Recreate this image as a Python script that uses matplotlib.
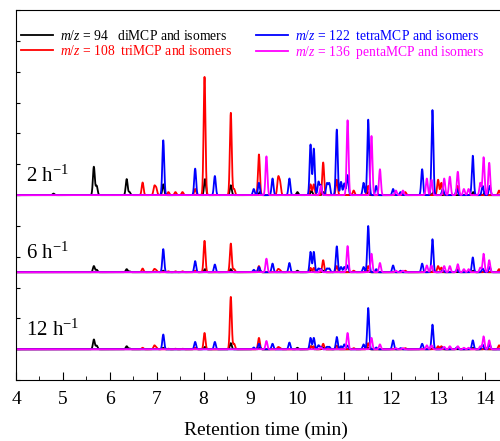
import numpy as np
import matplotlib
matplotlib.use("Agg")
import matplotlib.pyplot as plt
from matplotlib.ticker import MultipleLocator

plt.rcParams['font.family'] = ['Liberation Serif', 'DejaVu Serif']
plt.rcParams['mathtext.fontset'] = 'custom'
plt.rcParams['mathtext.rm'] = 'Liberation Serif'
plt.rcParams['mathtext.it'] = 'Liberation Serif:italic'

# peak tables: retention times (min) and peak heights per space velocity
black_rt = [4.80, 5.66, 5.72, 6.36, 6.42, 7.14, 8.03, 8.58, 9.20, 10.00, 10.30, 10.55, 11.50, 12.90, 13.75, 14.00]
black_2h = [0.05, 0.92, 0.30, 0.52, 0.10, 0.35, 0.52, 0.32, 0.10, 0.10, 0.15, 0.10, 0.10, 0.10, 0.10, 0.10]
black_6h = [0.00, 0.20, 0.08, 0.10, 0.03, 0.05, 0.10, 0.10, 0.05, 0.05, 0.08, 0.05, 0.05, 0.05, 0.05, 0.05]
black_12h = [0.00, 0.32, 0.12, 0.10, 0.03, 0.05, 0.08, 0.20, 0.06, 0.05, 0.10, 0.06, 0.06, 0.05, 0.05, 0.05]

red_rt = [6.70, 6.95, 6.99, 7.25, 7.40, 7.55, 7.82, 8.02, 8.58, 8.65, 9.18, 9.59, 9.63, 10.28, 10.35, 10.55, 10.84, 11.20, 11.51, 12.30, 13.00, 13.07, 13.42, 14.30]
red_2h = [0.41, 0.28, 0.22, 0.10, 0.10, 0.10, 0.20, 3.84, 2.67, 0.20, 1.32, 0.55, 0.40, 0.35, 0.35, 1.06, 0.50, 0.15, 0.30, 0.10, 0.50, 0.40, 0.30, 0.15]
red_6h = [0.12, 0.10, 0.06, 0.03, 0.03, 0.03, 0.05, 1.02, 0.93, 0.10, 0.20, 0.10, 0.06, 0.14, 0.14, 0.39, 0.20, 0.05, 0.20, 0.05, 0.20, 0.15, 0.10, 0.10]
red_12h = [0.05, 0.12, 0.06, 0.02, 0.02, 0.02, 0.05, 0.53, 1.70, 0.18, 0.37, 0.07, 0.04, 0.10, 0.10, 0.18, 0.12, 0.04, 0.20, 0.04, 0.10, 0.10, 0.06, 0.13]

blue_rt = [7.14, 7.82, 8.24, 9.07, 9.18, 9.47, 9.83, 10.28, 10.35, 10.45, 10.50, 10.63, 10.68, 10.84, 10.93, 11.00, 11.07, 11.41, 11.51, 11.68, 12.04, 12.20, 12.66, 12.88, 13.10, 13.40, 13.74, 13.95, 14.10]
blue_2h = [1.78, 0.86, 0.62, 0.20, 0.40, 0.54, 0.54, 1.64, 1.51, 0.43, 0.30, 0.38, 0.38, 2.13, 0.43, 0.38, 0.65, 0.40, 2.45, 0.30, 0.20, 0.10, 0.84, 2.76, 0.20, 0.20, 1.28, 0.30, 0.30]
blue_6h = [0.75, 0.36, 0.25, 0.08, 0.17, 0.28, 0.30, 0.66, 0.66, 0.12, 0.10, 0.12, 0.12, 0.84, 0.17, 0.17, 0.22, 0.17, 1.50, 0.10, 0.22, 0.05, 0.28, 1.07, 0.08, 0.08, 0.48, 0.12, 0.17]
blue_12h = [0.48, 0.24, 0.24, 0.06, 0.18, 0.18, 0.22, 0.37, 0.37, 0.13, 0.08, 0.08, 0.08, 0.40, 0.10, 0.16, 0.12, 0.16, 1.34, 0.06, 0.29, 0.04, 0.18, 0.80, 0.06, 0.06, 0.29, 0.15, 0.15]

magenta_rt = [9.34, 10.50, 11.07, 11.58, 11.76, 12.10, 12.25, 12.76, 12.86, 13.13, 13.25, 13.42, 13.55, 13.65, 13.90, 13.97, 14.09]
magenta_2h = [1.26, 0.30, 2.43, 1.92, 0.84, 0.15, 0.15, 0.54, 0.50, 0.54, 0.60, 0.76, 0.20, 0.20, 0.40, 1.23, 1.05]
magenta_6h = [0.44, 0.08, 0.85, 0.60, 0.30, 0.05, 0.05, 0.22, 0.22, 0.20, 0.20, 0.26, 0.10, 0.10, 0.15, 0.60, 0.39]
magenta_12h = [0.27, 0.06, 0.53, 0.37, 0.16, 0.04, 0.04, 0.13, 0.13, 0.08, 0.10, 0.10, 0.05, 0.05, 0.10, 0.42, 0.29]

panel_labels = ['2 h$^{-1}$', '6 h$^{-1}$', '12 h$^{-1}$']
panel_offsets = [6.0, 3.5, 1.0]

series_labels = ['$m/z$ = 94   diMCP and isomers',
                 '$m/z$ = 108  triMCP and isomers',
                 '$m/z$ = 122  tetraMCP and isomers',
                 '$m/z$ = 136  pentaMCP and isomers']
series_colors = ['black', 'red', 'blue', 'magenta']
series_rt = [black_rt, red_rt, blue_rt, magenta_rt]
series_heights = [[black_2h, black_6h, black_12h],
                  [red_2h, red_6h, red_12h],
                  [blue_2h, blue_6h, blue_12h],
                  [magenta_2h, magenta_6h, magenta_12h]]

t = np.linspace(4.0, 14.6, 4000)
sigma = 0.02


def trace(rt, heights):
    y = np.zeros_like(t)
    for r, h in zip(rt, heights):
        y += h * np.exp(-0.5 * ((t - r) / sigma) ** 2)
    return y


fig = plt.figure(figsize=(5.0, 4.41), dpi=100)
ax = fig.add_axes([0.032, 0.138, 1.0, 0.839])

for k in range(4):
    for p in range(3):
        y = trace(series_rt[k], series_heights[k][p]) + panel_offsets[p]
        ax.plot(t, y, color=series_colors[k], lw=1.3,
                label=series_labels[k] if p == 0 else None)

for p in range(3):
    ax.text(4.21, panel_offsets[p] + 0.43, panel_labels[p], fontsize=15,
            va='baseline', ha='left')

ax.set_xlim(4.0, 4.0 + 500 / 46.9)
ax.set_ylim(0, 12)
ax.xaxis.set_major_locator(MultipleLocator(1))
ax.xaxis.set_minor_locator(MultipleLocator(0.5))
ax.yaxis.set_major_locator(MultipleLocator(1))
ax.tick_params(axis='x', which='major', direction='in', length=6, labelsize=14, pad=8)
ax.tick_params(axis='x', which='minor', direction='in', length=3)
ax.tick_params(axis='y', which='major', direction='in', length=3, labelleft=False)
ax.spines['right'].set_visible(False)
ax.set_xlabel('Retention time (min)', fontsize=14, labelpad=10)

fig.legend(loc='upper left', bbox_to_anchor=(0.042, 0.935), ncol=2,
           frameon=False, fontsize=9.8, labelcolor='linecolor',
           handlelength=2.35, handletextpad=0.5, columnspacing=1.8,
           labelspacing=0.1, borderpad=0, borderaxespad=0)

fig.savefig('out.png', dpi=100)
